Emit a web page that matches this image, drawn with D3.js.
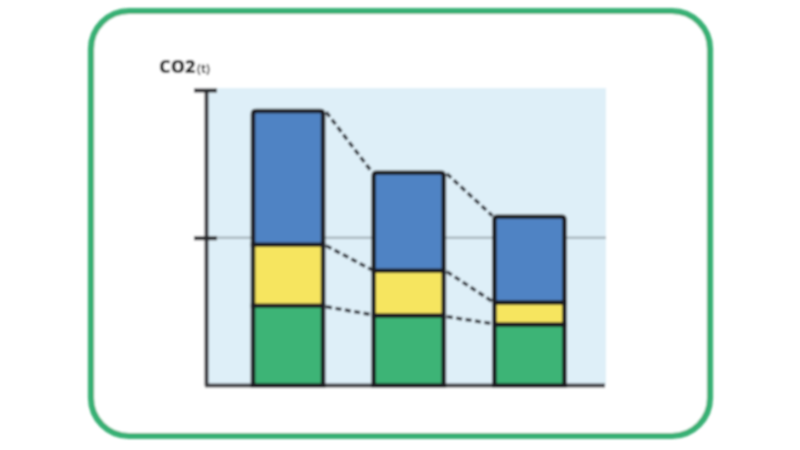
<!DOCTYPE html>
<html>
<head>
<meta charset="utf-8">
<script src="https://cdn.jsdelivr.net/npm/d3@7"></script>
<style>
  html, body { margin: 0; padding: 0; background: #fff; }
  svg { display: block; }
</style>
</head>
<body>
<svg id="chart" width="800" height="450"></svg>
<script>
// values, in units where the upper tick = 200
const categories = ['A', 'B', 'C'];
const greenValues = [54, 47.3, 41.2];
const yellowValues = [41.3, 30.4, 15];
const blueValues = [90.5, 66.3, 58];
const tickValues = [100, 200];

const seriesNames = ['green', 'yellow', 'blue'];
const seriesColors = { green: '#3cb476', yellow: '#f6e55e', blue: '#4f83c4' };
const table = categories.map((c, i) => ({
    category: c,
    green: greenValues[i],
    yellow: yellowValues[i],
    blue: blueValues[i]
}));

const svg = d3.select('#chart');
const defs = svg.append('defs');
defs.append('filter').attr('id', 'soft')
    .attr('filterUnits', 'userSpaceOnUse')
    .attr('x', 0).attr('y', 0).attr('width', 800).attr('height', 450)
    .append('feGaussianBlur').attr('stdDeviation', 0.9);

const root = svg.append('g').attr('filter', 'url(#soft)');

const x = d3.scaleBand().domain(categories).range([253, 564.5]).paddingInner(0.419).paddingOuter(0);
const y = d3.scaleLinear().domain([0, 200]).range([385.5, 90]);

// outer frame
root.append('rect')
    .attr('x', 91).attr('y', 11)
    .attr('width', 619).attr('height', 425)
    .attr('rx', 38).attr('ry', 38)
    .attr('fill', '#fff')
    .attr('stroke', '#39b075')
    .attr('stroke-width', 6.2);

// light blue panel
root.append('rect')
    .attr('x', 206).attr('y', 88)
    .attr('width', 400).attr('height', 298)
    .attr('fill', '#deeff8');

// reference line at the middle tick
root.append('line')
    .attr('x1', 206).attr('x2', 606)
    .attr('y1', y(100)).attr('y2', y(100))
    .attr('stroke', '#a9b8bf')
    .attr('stroke-width', 2.4);

const stacked = d3.stack().keys(seriesNames)(table);

// dashed connectors between bars, one per stack boundary
stacked.forEach((layer) => {
    d3.pairs(layer).forEach(([a, b]) => {
        root.append('line')
            .attr('x1', x(a.data.category) + x.bandwidth() + 3)
            .attr('y1', y(a[1]) + 1)
            .attr('x2', x(b.data.category) - 2)
            .attr('y2', y(b[1]) - 1)
            .attr('stroke', '#30353c')
            .attr('stroke-width', 3.4)
            .attr('stroke-dasharray', '6 3.5');
    });
});

// axes
const yAxis = root.append('g')
    .attr('transform', 'translate(206,0)')
    .call(d3.axisLeft(y).tickValues(tickValues).tickFormat('').tickSizeOuter(0));
yAxis.select('.domain').attr('stroke', '#36363b').attr('stroke-width', 4);
yAxis.selectAll('.tick line')
    .attr('x1', -12).attr('x2', 11)
    .attr('stroke', '#26262a').attr('stroke-width', 4);

root.append('line')
    .attr('x1', 205).attr('x2', 605)
    .attr('y1', y(0)).attr('y2', y(0))
    .attr('stroke', '#3e3e43')
    .attr('stroke-width', 4);

// stacked bars
stacked.forEach((layer) => {
    root.append('g').selectAll('path')
        .data(layer)
        .join('path')
        .attr('d', (d) => {
            const x0 = x(d.data.category);
            const w = x.bandwidth();
            const top = y(d[1]);
            const bottom = y(d[0]);
            const r = layer.key === 'blue' ? 3 : 0;
            return `M${x0},${bottom}V${top + r}Q${x0},${top} ${x0 + r},${top}H${x0 + w - r}Q${x0 + w},${top} ${x0 + w},${top + r}V${bottom}Z`;
        })
        .attr('fill', seriesColors[layer.key])
        .attr('stroke', '#1a1c20')
        .attr('stroke-width', 4.6);
});

// axis title
const title = root.append('text')
    .attr('x', 159).attr('y', 73)
    .attr('font-family', '"Open Sans", sans-serif')
    .attr('font-weight', 800)
    .attr('font-size', 18)
    .attr('fill', '#111111');
title.append('tspan').text('CO2');
title.append('tspan').attr('font-size', 11.5).attr('font-weight', 700).attr('dx', 1.5).text('(t)');
</script>
</body>
</html>
